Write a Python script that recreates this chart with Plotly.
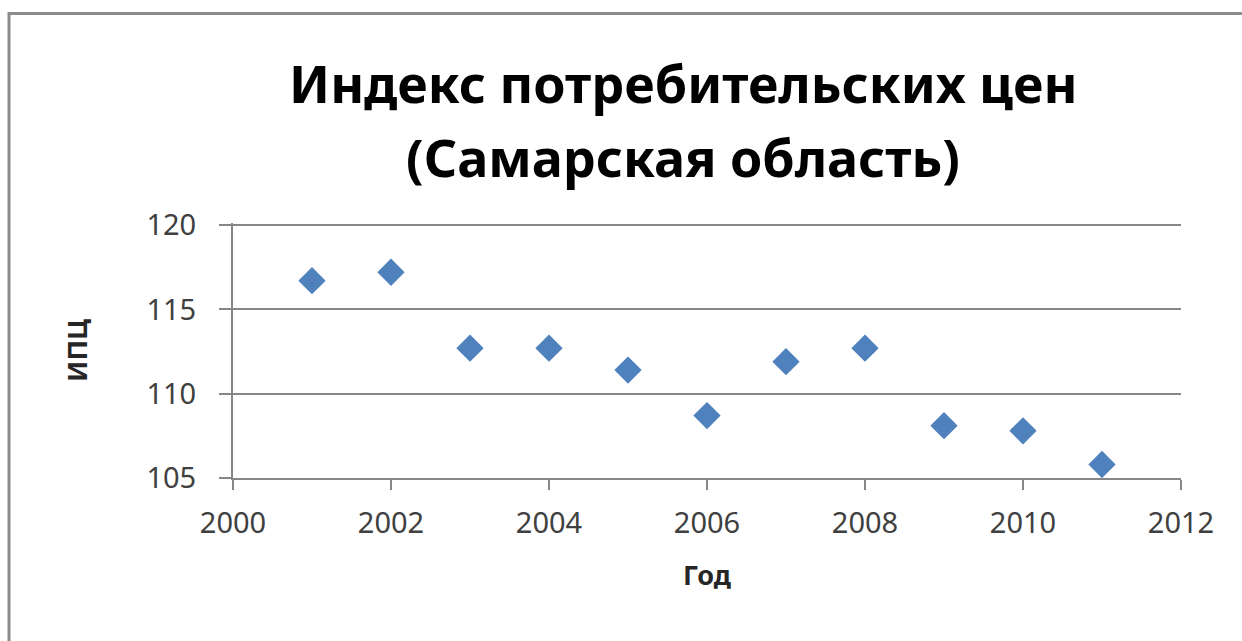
import plotly.graph_objects as go

# Consumer price index, Samara region
years = [2001, 2002, 2003, 2004, 2005, 2006, 2007, 2008, 2009, 2010, 2011]
cpi = [116.7, 117.2, 112.7, 112.7, 111.4, 108.7, 111.9, 112.7, 108.1, 107.8, 105.8]

x_ticks = [2000, 2002, 2004, 2006, 2008, 2010, 2012]
y_ticks = [105, 110, 115, 120]

title_lines = ["Индекс потребительских цен", "(Самарская область)"]
x_title = "Год"
y_title = "ИПЦ"

FONT = "Noto Sans"
W, H = 1242, 641
L, R, T, B = 233, 61, 223, 163
pw, ph = W - L - R, H - T - B


def py(px):
    """Convert a page pixel row to paper y."""
    return (H - B - px) / ph


def px_(x):
    """Convert a page pixel column to paper x."""
    return (x - L) / pw


fig = go.Figure(
    go.Scatter(
        x=years, y=cpi, mode="markers",
        marker=dict(symbol="diamond", size=21, color="#4F81BD",
                    line=dict(width=0)),
        showlegend=False,
    )
)

# outer chart frame (runs past the right and bottom edges)
fig.add_shape(
    type="rect", xref="paper", yref="paper",
    x0=px_(9), x1=px_(W + 20), y0=py(H + 20), y1=py(13.5),
    line=dict(color="#8C8C8C", width=3), fillcolor="rgba(0,0,0,0)",
    layer="below",
)

# two-line chart title
for line, ypix in zip(title_lines, [82, 156]):
    fig.add_annotation(
        text=line, xref="paper", yref="paper", x=px_(683), y=py(ypix),
        xanchor="center", yanchor="middle", showarrow=False,
        font=dict(family=FONT, size=52, color="#000000", weight="bold"),
    )

fig.update_layout(
    width=W, height=H,
    margin=dict(l=L, r=R, t=T, b=B),
    paper_bgcolor="white", plot_bgcolor="white",
    xaxis=dict(
        range=[2000, 2012], tickvals=x_ticks, showgrid=False,
        showline=True, linecolor="#868686", linewidth=2,
        ticks="outside", ticklen=10, tickwidth=2, tickcolor="#868686",
        tickfont=dict(family=FONT, size=29, color="#404040"),
        ticklabelstandoff=8,
        title=dict(text=x_title, standoff=26,
                   font=dict(family=FONT, size=27, color="#262626", weight="bold")),
        zeroline=False,
    ),
    yaxis=dict(
        range=[105, 120.12], tickvals=y_ticks, showgrid=True,
        gridcolor="#868686", gridwidth=2,
        showline=True, linecolor="#868686", linewidth=2,
        ticks="outside", ticklen=12, tickwidth=2, tickcolor="#868686",
        tickfont=dict(family=FONT, size=29, color="#404040"),
        ticklabelstandoff=17,
        title=dict(text=y_title, standoff=51,
                   font=dict(family=FONT, size=27, color="#262626", weight="bold")),
        zeroline=False,
    ),
)

fig.write_html("out.html")
